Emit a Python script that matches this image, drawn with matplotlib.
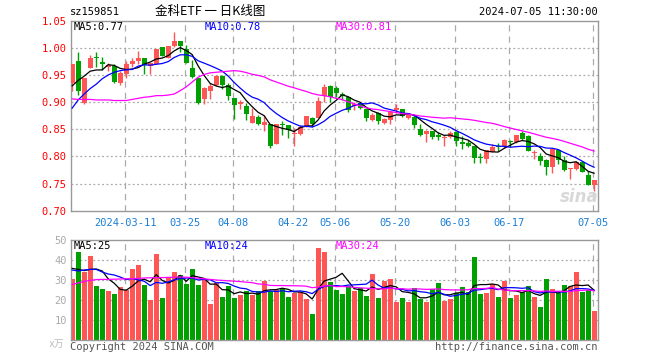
import matplotlib
matplotlib.use("Agg")
import matplotlib.pyplot as plt
import numpy as np
import pandas as pd

plt.rcParams['font.family'] = ['DejaVu Sans Mono', 'Noto Sans CJK SC']

# ---------------- data ----------------
holidays = ['2024-04-04', '2024-04-05', '2024-05-01', '2024-05-02', '2024-05-03', '2024-06-10']
days = [d for d in pd.bdate_range('2024-02-27', '2024-07-05') if d.strftime('%Y-%m-%d') not in holidays]

opens = [0.935, 0.976, 0.898, 0.963, 0.983, 0.974, 0.965, 0.966, 0.936, 0.951,
         0.970, 0.975, 0.981, 0.966, 0.971, 1.001, 0.981, 1.003, 1.012, 0.997,
         0.963, 0.944, 0.906, 0.921, 0.932, 0.949, 0.931, 0.907, 0.896, 0.893,
         0.861, 0.873, 0.858, 0.860, 0.823, 0.860, 0.857, 0.841, 0.841, 0.855,
         0.871, 0.870, 0.911, 0.930, 0.926, 0.915, 0.909, 0.892, 0.898, 0.887,
         0.868, 0.880, 0.861, 0.868, 0.885, 0.887, 0.871, 0.873, 0.850, 0.842,
         0.846, 0.839, 0.834, 0.836, 0.845, 0.827, 0.824, 0.820, 0.798, 0.796,
         0.809, 0.819, 0.818, 0.828, 0.827, 0.843, 0.838, 0.807, 0.801, 0.794,
         0.780, 0.812, 0.794, 0.777, 0.776, 0.790, 0.765, 0.747]
closes = [0.970, 0.920, 0.944, 0.981, 0.981, 0.971, 0.968, 0.937, 0.954, 0.970,
          0.976, 0.981, 0.969, 0.973, 0.998, 0.985, 1.003, 1.013, 1.003, 0.972,
          0.947, 0.898, 0.926, 0.929, 0.949, 0.932, 0.912, 0.894, 0.900, 0.878,
          0.874, 0.860, 0.863, 0.819, 0.860, 0.857, 0.849, 0.844, 0.855, 0.874,
          0.860, 0.903, 0.927, 0.909, 0.917, 0.911, 0.886, 0.896, 0.889, 0.871,
          0.877, 0.865, 0.869, 0.882, 0.890, 0.874, 0.877, 0.858, 0.840, 0.847,
          0.836, 0.836, 0.835, 0.843, 0.829, 0.823, 0.820, 0.797, 0.797, 0.811,
          0.817, 0.818, 0.831, 0.826, 0.839, 0.832, 0.810, 0.809, 0.792, 0.780,
          0.814, 0.794, 0.775, 0.779, 0.789, 0.772, 0.748, 0.757]
highs = [0.970, 0.992, 0.945, 0.987, 0.992, 0.983, 0.973, 0.971, 0.957, 0.975,
         0.982, 0.994, 0.982, 0.973, 0.998, 1.002, 1.003, 1.029, 1.012, 1.005,
         0.978, 0.944, 0.928, 0.935, 0.950, 0.950, 0.935, 0.908, 0.904, 0.898,
         0.889, 0.876, 0.877, 0.860, 0.860, 0.866, 0.857, 0.852, 0.857, 0.874,
         0.873, 0.909, 0.933, 0.932, 0.929, 0.918, 0.909, 0.900, 0.901, 0.890,
         0.880, 0.882, 0.871, 0.884, 0.896, 0.887, 0.880, 0.877, 0.859, 0.849,
         0.847, 0.845, 0.840, 0.846, 0.846, 0.838, 0.831, 0.820, 0.806, 0.811,
         0.822, 0.824, 0.832, 0.831, 0.840, 0.846, 0.839, 0.812, 0.806, 0.796,
         0.814, 0.814, 0.800, 0.779, 0.791, 0.791, 0.773, 0.757]
lows = [0.921, 0.914, 0.896, 0.962, 0.964, 0.960, 0.957, 0.935, 0.932, 0.944,
        0.965, 0.971, 0.952, 0.951, 0.971, 0.985, 0.981, 1.001, 0.993, 0.972,
        0.944, 0.896, 0.896, 0.906, 0.929, 0.925, 0.904, 0.869, 0.887, 0.868,
        0.861, 0.857, 0.847, 0.815, 0.822, 0.840, 0.834, 0.820, 0.840, 0.855,
        0.855, 0.870, 0.901, 0.900, 0.910, 0.904, 0.882, 0.886, 0.888, 0.865,
        0.866, 0.859, 0.860, 0.860, 0.880, 0.872, 0.869, 0.852, 0.838, 0.827,
        0.833, 0.831, 0.820, 0.834, 0.820, 0.813, 0.817, 0.788, 0.787, 0.787,
        0.808, 0.810, 0.816, 0.818, 0.825, 0.830, 0.810, 0.796, 0.785, 0.765,
        0.769, 0.786, 0.773, 0.759, 0.775, 0.771, 0.747, 0.737]
volumes = [30.5, 44, 34, 42, 27, 25.5, 24.5, 23, 26.5, 25,
           35.5, 37.5, 27.5, 20, 43, 21, 31, 34, 32.5, 28,
           35.5, 27.5, 30.5, 18, 28.3, 21.5, 27, 21, 22.3, 24.5,
           22.3, 24.5, 29.7, 24.5, 25, 25.8, 21.7, 23.3, 24.2, 20.3,
           13, 46, 44, 28.8, 25, 23, 27, 24.5, 26, 22,
           33, 21, 29.5, 30.5, 19, 21, 19, 26, 20.5, 19,
           25.5, 28.5, 19.5, 20.5, 23.5, 26.5, 24, 41.5, 23, 23.5,
           28, 21.5, 29.5, 21, 22.5, 24, 27, 21.5, 16.5, 30.5,
           25.5, 23.5, 27.5, 27, 34, 24, 25, 14.5]

# moving-average values at the left edge (history before the window)
ma5_head = [0.930, 0.940, 0.948, 0.957]
ma10_head = [0.889, 0.904, 0.915, 0.925, 0.933, 0.943, 0.950, 0.955, 0.958]
ma30_head = [0.906, 0.905, 0.905, 0.905, 0.904, 0.904, 0.904, 0.903, 0.903, 0.903,
             0.905, 0.907, 0.909, 0.910, 0.912, 0.912, 0.913, 0.915, 0.921, 0.928,
             0.937, 0.946, 0.951, 0.954, 0.955, 0.956, 0.957, 0.958, 0.957]
vma5_head = [35.8, 35.3, 34.7, 35.3]
vma10_head = [35, 34.5, 35, 35.3, 35.3, 34, 33, 32.5, 31.5]
vma30_head = [27.8, 28.5, 29.3, 29.8, 30.2, 30.3, 30.3, 30.4, 30.5, 30.6,
              30.7, 30.8, 31.0, 31.1, 31.2, 31.2, 31.3, 31.4, 31.5, 31.4,
              31.2, 30.9, 30.6, 30.3, 30.0, 29.8, 29.6, 29.4, 29.2]

tick_dates = ['2024-03-11', '2024-03-25', '2024-04-08', '2024-04-22', '2024-05-06',
              '2024-05-20', '2024-06-03', '2024-06-17', '2024-07-05']


def ma(vals, n, head):
    s = pd.Series(vals, dtype=float).rolling(n).mean().to_numpy()
    s[:n - 1] = head
    return s


RED = '#ff5555'
GREEN = '#00a000'
FRAME = '#999999'
GRID = '#aaaaaa'

o = np.array(opens); c = np.array(closes); h = np.array(highs); l = np.array(lows)
v = np.array(volumes)
x = np.arange(len(days))
cols = np.where(c >= o, RED, GREEN)
day_str = [d.strftime('%Y-%m-%d') for d in days]
tick_idx = [day_str.index(t) - 0.15 for t in tick_dates]
tick_lab = [t if k == 0 else t[5:] for k, t in enumerate(tick_dates)]

W, H = 660, 360
fig = plt.figure(figsize=(6.6, 3.6), dpi=100)


def px_axes(left, top, right, bottom):
    return fig.add_axes([left / W, 1 - bottom / H, (right - left) / W, (bottom - top) / H])


ax = px_axes(71, 20.7, 598, 210.7)
axv = px_axes(71, 240, 598, 340)

for a in (ax, axv):
    a.set_xlim(-0.2, len(days) - 0.35)
    for s in a.spines.values():
        s.set_color(FRAME)
        s.set_linewidth(1)
    for t in tick_idx:
        a.axvline(t, color=GRID, lw=0.9, ls=(0, (5, 4)), zorder=0)
    a.tick_params(length=0)

# ---- price panel ----
ax.vlines(x, l, h, colors=cols, lw=1, zorder=2)
body = np.maximum(np.abs(c - o), 0.0012)
ax.bar(x, body, bottom=np.minimum(o, c), width=0.82, color=cols, zorder=3)
ax.plot(x, ma(closes, 5, ma5_head), color='black', lw=0.9, zorder=4)
ax.plot(x, ma(closes, 10, ma10_head), color='#0000ff', lw=0.9, zorder=4)
ax.plot(x, ma(closes, 30, ma30_head), color='#ff00ff', lw=0.9, zorder=4)

yt = np.round(np.arange(0.70, 1.051, 0.05), 2)
ax.set_ylim(0.70, 1.05)
ax.set_yticks(yt)
ax.set_yticklabels(['%.2f' % t for t in yt], color='#ff0000', fontsize=7.5)
for t in yt[1:-1]:
    ax.axhline(t, color=GRID, lw=0.9, ls=(0, (1.5, 2)), zorder=0)
ax.set_xticks(tick_idx)
ax.set_xticklabels(tick_lab, color='#1a7fd4', fontsize=7.5)
ax.tick_params(axis='x', pad=5)
ax.tick_params(axis='y', pad=3)

m5, m10, m30 = ma(closes, 5, ma5_head)[-1], ma(closes, 10, ma10_head)[-1], ma(closes, 30, ma30_head)[-1]
fig.text(74 / W, 1 - 27 / H, 'MA5:%.2f' % m5, color='black', fontsize=7.5, va='center')
fig.text(205 / W, 1 - 27 / H, 'MA10:%.2f' % m10, color='#0000ff', fontsize=7.5, va='center')
fig.text(336 / W, 1 - 27 / H, 'MA30:%.2f' % m30, color='#ff00ff', fontsize=7.5, va='center')
ax.text(0.965, 0.07, 'sina', transform=ax.transAxes, color='#d8d8d8', fontsize=12,
        style='italic', weight='bold', family='DejaVu Sans', ha='center', va='center', zorder=1)

# ---- volume panel ----
axv.bar(x, v, width=0.82, color=cols, zorder=2)
vm5, vm10, vm30 = ma(volumes, 5, vma5_head), ma(volumes, 10, vma10_head), ma(volumes, 30, vma30_head)
axv.plot(x, vm5, color='black', lw=0.9, zorder=3)
axv.plot(x, vm10, color='#0000ff', lw=0.9, zorder=3)
axv.plot(x, vm30, color='#ff00ff', lw=0.9, zorder=3)
axv.set_ylim(0, 50)
axv.set_yticks([10, 20, 30, 40, 50])
axv.set_yticklabels(['10', '20', '30', '40', '50'], color='#aaaaaa', fontsize=7.5)
axv.tick_params(axis='y', pad=3)
for t in [10, 20, 30, 40]:
    axv.axhline(t, color=GRID, lw=0.9, ls=(0, (1.5, 2)), zorder=0)
axv.set_xticks([])

fig.text(74 / W, 1 - 246 / H, 'MA5:%d' % round(vm5[-1]), color='black', fontsize=7.5, va='center')
fig.text(205 / W, 1 - 246 / H, 'MA10:%d' % int(vm10[-1]), color='#0000ff', fontsize=7.5, va='center')
fig.text(336 / W, 1 - 246 / H, 'MA30:%d' % int(vm30[-1]), color='#ff00ff', fontsize=7.5, va='center')
fig.text(64 / W, 1 - 344 / H, 'x万', color='#bbbbbb', fontsize=7, ha='right', va='center')

# ---- header / footer ----
fig.text(70 / W, 1 - 12 / H, 'sz159851', color='black', fontsize=7.5, va='center')
fig.text(210 / W, 1 - 12 / H, '金科ETF 一 日K线图', color='black', fontsize=9, va='center',
         ha='center', family=['Noto Sans CJK SC', 'DejaVu Sans'])
fig.text(598 / W, 1 - 12 / H, '2024-07-05 11:30:00', color='black', fontsize=7.5, va='center', ha='right')
fig.text(70 / W, 1 - 347 / H, 'Copyright 2024 SINA.COM', color='#555555', fontsize=7.5, va='center')
fig.text(598 / W, 1 - 347 / H, 'http://finance.sina.com.cn', color='#555555', fontsize=7.5,
         va='center', ha='right')

fig.savefig('out.png', dpi=100)
